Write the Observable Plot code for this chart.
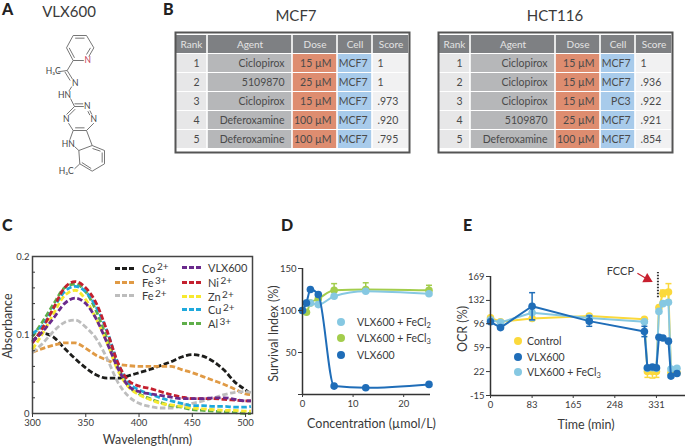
<!DOCTYPE html>
<html><head><meta charset="utf-8">
<script src="https://cdn.jsdelivr.net/npm/d3@7"></script>
<script src="https://cdn.jsdelivr.net/npm/@observablehq/plot@0.6"></script>
<style>
html,body{margin:0;padding:0;background:#fff;}
#page{position:relative;width:685px;height:446px;overflow:hidden;font-family:Lato,sans-serif;color:#3a3a3a;}
#page svg{overflow:visible;background:transparent;}
.abs{position:absolute;white-space:nowrap;line-height:1;}
.ltr{font-weight:900;font-size:16px;color:#222;}
.ttl{font-size:15px;transform:translateX(-50%);}
.leg{font-size:11px;height:11px;}
.leg sup{font-size:10px;line-height:0;vertical-align:3px;margin-left:1.5px;}
.leg2{font-size:10.5px;}
.leg2 sub{font-size:7.5px;line-height:0;vertical-align:-1.5px;}
.sw{position:absolute;}
.mk{position:absolute;width:8px;height:8px;border-radius:50%;}
</style></head><body><div id="page"></div>
<script>
// ---------- Table data ----------
const tableColumns = ["Rank","Agent","Dose","Cell","Score"];
const columnWidths = [32,85,45,35,37];
const ranks = ["1","2","3","4","5"];
const mcfAgents = ["Ciclopirox","5109870","Ciclopirox","Deferoxamine","Deferoxamine"];
const mcfDoses = ["15 µM","25 µM","15 µM","100 µM","100 µM"];
const mcfCells = ["MCF7","MCF7","MCF7","MCF7","MCF7"];
const mcfScores = ["1","1",".973",".920",".795"];
const hctAgents = ["Ciclopirox","Ciclopirox","Ciclopirox","5109870","Deferoxamine"];
const hctDoses = ["15 µM","15 µM","15 µM","25 µM","100 µM"];
const hctCells = ["MCF7","MCF7","PC3","MCF7","MCF7"];
const hctScores = ["1",".936",".922",".921",".854"];
const columnFills = ["#e7e7e8","#b6b7b9","#de8d70","#a8cbeb","#f1f1f2"];

// ---------- Panel C spectra ----------
const wavelengths = [300,310,320,330,340,350,360,370,380,390,400,410,420,430,440,450,460,470,480,490,500,505];
const co2 = [.092,.102,.097,.083,.070,.058,.049,.045,.045,.048,.052,.056,.061,.066,.072,.075,.073,.066,.055,.040,.030,.025];
const fe3 = [.078,.083,.087,.090,.090,.083,.074,.068,.063,.061,.060,.060,.060,.060,.056,.052,.047,.042,.037,.031,.025,.024];
const fe2 = [.078,.090,.105,.116,.119,.110,.095,.070,.040,.022,.013,.009,.007,.007,.010,.013,.016,.020,.024,.027,.028,.027];
const vlx = [.092,.105,.122,.140,.147,.140,.120,.090,.058,.035,.028,.025,.023,.021,.019,.019,.019,.020,.020,.018,.016,.016];
const ni  = [.090,.110,.135,.160,.168,.160,.140,.105,.065,.042,.035,.032,.028,.024,.021,.019,.019,.019,.018,.017,.016,.016];
const zn  = [.082,.103,.128,.150,.157,.145,.120,.090,.055,.034,.024,.018,.013,.011,.009,.007,.006,.005,.004,.004,.003,.003];
const cu  = [.102,.113,.135,.155,.162,.155,.135,.105,.065,.040,.030,.025,.020,.016,.013,.010,.010,.009,.009,.008,.008,.009];
const al  = [.098,.118,.140,.160,.165,.155,.130,.095,.060,.035,.025,.019,.014,.010,.008,.005,.004,.003,.002,.001,.000,.000];
const spectra = [
  ["Co",co2,"#1d1d1b"],["Fe3",fe3,"#e09a45"],["Fe2",fe2,"#bdbdbd"],["Al",al,"#5fae4a"],
  ["Zn",zn,"#f7e92f"],["Cu",cu,"#1fa9dc"],["Ni",ni,"#c4202f"],["VLX",vlx,"#6a2a8c"]
];

// ---------- Panel D survival ----------
const concentrations = [0,0.78,1.56,3.125,6.25,12.5,25];
const survivalFeCl2 = [100,109,109,107,117,123,120];
const survivalFeCl3 = [100,98,109,114,124,125,124];
const survivalVLX = [100,109,125,119,10,8,12];
const errFeCl3 = [0,0,0,0,8,8,6];

// ---------- Panel E OCR ----------
const times = [0,20,83,197,307,313,323,331,336,344,355,360,372];
const ocrControl = [105,99,104,108,103,22,22,22,121,143,145,20,20];
const ocrVLX = [99,90,123,100,84,28,29,28,75,74,69,15,19];
const ocrFeCl3 = [102,98,113,105,99,27,28,27,115,127,129,26,27];
const errControl = [0,0,0,0,0,9,10,9,0,5,13,0,0];
const errVLX = [0,0,21,8,8,0,0,0,0,0,0,0,0];
const errFeCl3E = [0,0,12,0,0,0,0,0,0,0,0,0,0];
const fccpTime = 334;

// ---------- Panel A molecule (drawing units) ----------
const bonds = [
 [218,105,258,105],[258,105,280,142],[280,142,265,168],[250,180,218,180],[218,180,198,142],[198,142,218,105],
 [224,113,252,113],[206,142,222,172],[270,142,258,162],
 [218,180,200,210],[200,210,172,214],[200,210,216,236],[193,214,209,240],[214,258,205,272],
 [210,294,222,318],[222,318,250,318],[222,310,248,310],[268,330,274,342],[262,332,268,344],[280,368,258,390],[258,390,218,390],[252,382,224,382],[218,390,204,368],[198,342,222,318],[206,344,224,326],
 [218,390,208,418],[258,390,275,435],[222,438,235,450],[235,450,275,435],
 [275,435,312,450],[312,450,312,490],[312,490,275,512],[275,512,238,490],[238,490,235,450],[305,456,305,486],[272,504,244,486],[276,444,300,452],
 [238,490,222,505]
];
const atomLabels = [
 ["N",262,180,"#c5405a"],["H\u2083C",158,212,"#444444"],["N",224,248,"#444444"],["HN",192,285,"#444444"],
 ["N",260,316,"#444444"],["N",280,355,"#444444"],["N",197,355,"#444444"],["HN",203,430,"#444444"],["H\u2083C",197,512,"#444444"]
];

const page = document.getElementById("page");
const font = "Lato, sans-serif";
const tickFont = 9.5, titleFont = 12.5;
function place(opts,left,top){
  const el = Plot.plot({style:{fontFamily:font,background:"transparent",color:"#3a3a3a"},...opts});
  el.style.position="absolute";el.style.left=left+"px";el.style.top=top+"px";
  page.appendChild(el);
}
function html(cls,text,left,top,extra){
  const d=document.createElement("div");d.className="abs "+cls;d.innerHTML=text;
  d.style.left=left+"px";d.style.top=top+"px";if(extra)Object.assign(d.style,extra);page.appendChild(d);return d;
}
const capSymbol = {draw(c,s){const r=Math.sqrt(s/Math.PI);c.moveTo(-r,0);c.lineTo(r,0);}};

// Panel letters and titles
html("ltr","A",2,1);html("ltr","B",163,1);html("ltr","C",2,217);html("ltr","D",281,217);html("ltr","E",463,217);
html("ttl","VLX600",69,4);html("ttl","MCF7",296,8);html("ttl","HCT116",555,8);

// Panel A
place({width:170,height:190,margin:0,x:{domain:[0,510],axis:null},y:{domain:[570,0],axis:null},color:{type:"identity"},
 marks:[
  Plot.link(bonds,{x1:d=>d[0],y1:d=>d[1],x2:d=>d[2],y2:d=>d[3],stroke:"#666",strokeWidth:0.9}),
  Plot.text(atomLabels,{text:d=>d[0],x:d=>d[1],y:d=>d[2],fill:d=>d[3],fontSize:8.5})
 ]},0,0);

// Panel B tables
function table(agents,doses,cells,scores,left,top){
  const edges = d3.cumsum([0,...columnWidths]);
  const total = edges[edges.length-1];
  const yDomain=["h",...ranks];
  const columns=[ranks,agents,doses,cells,scores];
  const rows=[];
  tableColumns.forEach((c,i)=>{
    rows.push({row:"h",col:i,fill:"#7e8083"});
    ranks.forEach(r=>rows.push({row:r,col:i,fill:columnFills[i]}));
  });
  const headerCells=tableColumns.map((c,i)=>({row:"h",col:i,t:c}));
  const mk=(i,anchor,dx,xf)=>Plot.text(ranks.map((r,j)=>({row:r,t:columns[i][j]})),
      {x:()=>xf,y:"row",text:"t",textAnchor:anchor,dx,fill:"#4a4a4a",fontSize:10.5});
  place({width:total,height:120,margin:0,color:{type:"identity"},
    x:{domain:[0,total],axis:null},y:{domain:yDomain,axis:null,padding:0.04},
    marks:[
      Plot.barX(rows,{x1:d=>edges[d.col],x2:d=>edges[d.col+1],y:"row",fill:"fill",insetLeft:0.8,insetRight:0.8}),
      Plot.text(headerCells,{x:d=>(edges[d.col]+edges[d.col+1])/2,y:"row",text:"t",fill:"#e4e4e4",fontSize:10}),
      mk(0,"middle",0,(edges[0]+edges[1])/2+5),
      mk(1,"end",-8,edges[2]),
      mk(2,"end",-6,edges[3]),
      mk(3,"end",-5,edges[4]),
      mk(4,"start",5,edges[4]),
      Plot.frame({stroke:"#555",strokeWidth:2})
    ]},left,top);
}
table(mcfAgents,mcfDoses,mcfCells,mcfScores,175,32);
table(hctAgents,hctDoses,hctCells,hctScores,438,32);

// Panel C
place({width:260,height:200,marginLeft:32,marginRight:8,marginTop:11,marginBottom:32,
 x:{domain:[300,506.5]},y:{domain:[0,0.2]},
 marks:[
  ...spectra.map(([name,vals,color])=>Plot.line(wavelengths.map((w,i)=>({w,v:vals[i]})),
     {x:"w",y:"v",stroke:color,strokeWidth:2.8,strokeDasharray:"5.5,2.5",strokeLinecap:"butt",curve:"monotone-x"})),
  Plot.frame({stroke:"#444",strokeWidth:1.5}),
  Plot.axisX({ticks:[300,350,400,450,500],tickSize:4,label:null,fontSize:tickFont,tickPadding:2}),
  Plot.axisY({ticks:[0,0.1,0.2],tickSize:0,tickPadding:3,label:null,fontSize:tickFont,tickFormat:d=>d===0?"0":String(d)}),
  Plot.axisY({ticks:[0.02,0.04,0.06,0.08,0.1,0.12,0.14,0.16,0.18],tickSize:-3,tickFormat:()=>"",label:null}),
  Plot.text(["Wavelength(nm)"],{frameAnchor:"bottom",dx:5,dy:30,fontSize:titleFont,fill:"#3a3a3a"}),
  Plot.text(["Absorbance"],{frameAnchor:"left",textAnchor:"middle",lineAnchor:"middle",rotate:-90,dx:-25,dy:-9,fontSize:titleFont,fill:"#3a3a3a"})
 ]},0,245);

// Panel C legend
const legendC=[["Co<sup>2+</sup>","#1d1d1b",115,268,142],["Fe<sup>3+</sup>","#e09a45",115,282,142],["Fe<sup>2+</sup>","#bdbdbd",115,295,142],
 ["VLX600","#6a2a8c",182,267,208],["Ni<sup>2+</sup>","#c4202f",182,282,208],["Zn<sup>2+</sup>","#f7e92f",182,296,208],["Cu<sup>2+</sup>","#1fa9dc",182,309,208],["Al<sup>3+</sup>","#5fae4a",182,323,208]];
legendC.forEach(([t,c,sx,y,tx])=>{
  html("sw","",sx,y-1.5,{width:"19px",height:"3px",background:`repeating-linear-gradient(90deg,${c} 0 5px,transparent 5px 7px)`});
  html("leg",t,tx,y-5);
});

// Panel D
const dRows=(vals,errs)=>concentrations.map((c,i)=>({c,v:vals[i],e:errs?errs[i]:0}));
const dSeries=[[survivalFeCl2,"#86c8e2",null],[survivalFeCl3,"#a3cd4c",errFeCl3],[survivalVLX,"#1f6db8",null]];
place({width:185,height:185,marginLeft:47,marginRight:10,marginTop:13,marginBottom:46,
 x:{domain:[0,25.3]},y:{domain:[0,150]},
 marks:[
  ...[dSeries[1],dSeries[0],dSeries[2]].flatMap(([vals,color,errs])=>{
    const rows=dRows(vals,errs);const er=rows.filter(d=>d.e>0);
    return [
     Plot.ruleX(er,{x:"c",y1:"v",y2:d=>d.v+d.e,stroke:color,strokeWidth:1.5}),
     Plot.dot(er,{x:"c",y:d=>d.v+d.e,symbol:capSymbol,r:3,stroke:color,strokeWidth:1.5}),
     Plot.line(rows,{x:"c",y:"v",stroke:color,strokeWidth:2,curve:"monotone-x"}),
     Plot.dot(rows,{x:"c",y:"v",r:3.8,fill:color})
    ];
  }),
  Plot.ruleY([0],{stroke:"#333",strokeWidth:1.5}),
  Plot.ruleX([0],{stroke:"#333",strokeWidth:1.5}),
  Plot.axisX({ticks:[0,10,20],tickSize:3,label:null,fontSize:tickFont,tickPadding:3}),
  Plot.axisY({ticks:[0,50,100,150],tickSize:4,label:null,fontSize:tickFont,tickPadding:2,tickFormat:d=>d===0?"":String(d)}),
  Plot.text(["Concentration (µmol/L)"],{frameAnchor:"bottom",dx:5,dy:33,fontSize:titleFont,fill:"#3a3a3a"}),
  Plot.text(["Survival Index (%)"],{frameAnchor:"left",textAnchor:"middle",lineAnchor:"middle",rotate:-90,dx:-29,dy:2,fontSize:titleFont,fill:"#3a3a3a"})
 ]},255,255);
[["VLX600 + FeCl<sub>2</sub>","#86c8e2",322],["VLX600 + FeCl<sub>3</sub>","#a3cd4c",338],["VLX600","#1f6db8",355]].forEach(([t,c,y])=>{
  html("mk","",337,y-4,{background:c});html("leg2",t,357,y-5);
});

// Panel E
const eRows=(vals,errs)=>times.map((t,i)=>({t,v:vals[i],e:errs[i]}));
const eSeries=[[ocrControl,"#fbd93c",errControl],[ocrFeCl3,"#86c8e2",errFeCl3E],[ocrVLX,"#1f6db8",errVLX]];
place({width:230,height:185,marginLeft:35,marginRight:0,marginTop:21,marginBottom:45,
 x:{domain:[0,389]},y:{domain:[-15,169]},
 marks:[
  ...eSeries.flatMap(([vals,color,errs])=>{
    const rows=eRows(vals,errs);const er=rows.filter(d=>d.e>0);
    return [
     Plot.ruleX(er,{x:"t",y1:d=>d.v-d.e,y2:d=>d.v+d.e,stroke:color,strokeWidth:1.5}),
     Plot.dot(er,{x:"t",y:d=>d.v+d.e,symbol:capSymbol,r:3,stroke:color,strokeWidth:1.5}),
     Plot.dot(er,{x:"t",y:d=>d.v-d.e,symbol:capSymbol,r:3,stroke:color,strokeWidth:1.5}),
     Plot.line(rows,{x:"t",y:"v",stroke:color,strokeWidth:2}),
     Plot.dot(rows,{x:"t",y:"v",r:3.8,fill:color})
    ];
  }),
  Plot.ruleY([-15],{stroke:"#333",strokeWidth:1.5}),
  Plot.ruleX([0],{y1:-15,y2:169,stroke:"#333",strokeWidth:1.5}),
  Plot.axisX({ticks:[0,83,165,248,331],tickSize:3,label:null,fontSize:tickFont,tickPadding:3}),
  Plot.axisY({ticks:[-15,22,59,96,132,169],tickSize:4,label:null,fontSize:tickFont,tickPadding:2,tickFormat:d=>String(d)}),
  Plot.text(["Time (min)"],{frameAnchor:"bottom",dx:-2,dy:33,fontSize:titleFont,fill:"#3a3a3a"}),
  Plot.text(["OCR (%)"],{frameAnchor:"left",textAnchor:"middle",lineAnchor:"middle",rotate:-90,dx:-28,dy:-7,fontSize:titleFont,fill:"#3a3a3a"}),
  Plot.text(["FCCP"],{x:259,y:177,fontSize:11,fill:"#3a3a3a"}),
  Plot.ruleX([fccpTime],{y1:136,y2:175,stroke:"#333",strokeWidth:2,strokeLinecap:"butt",strokeDasharray:"1.6,1.4"}),
  Plot.link([0],{x1:293,y1:174,x2:315,y2:164,stroke:"#c8202f",strokeWidth:1.3}),
  Plot.dot([0],{x:313,y:165,symbol:"triangle2",r:5,rotate:118,fill:"#c8202f"})
 ]},455,255);
[["Control","#fbd93c",341],["VLX600","#1f6db8",357],["VLX600 + FeCl<sub>3</sub>","#86c8e2",372]].forEach(([t,c,y])=>{
  html("mk","",514,y-4,{background:c});html("leg2",t,527,y-5);
});
</script></body></html>
